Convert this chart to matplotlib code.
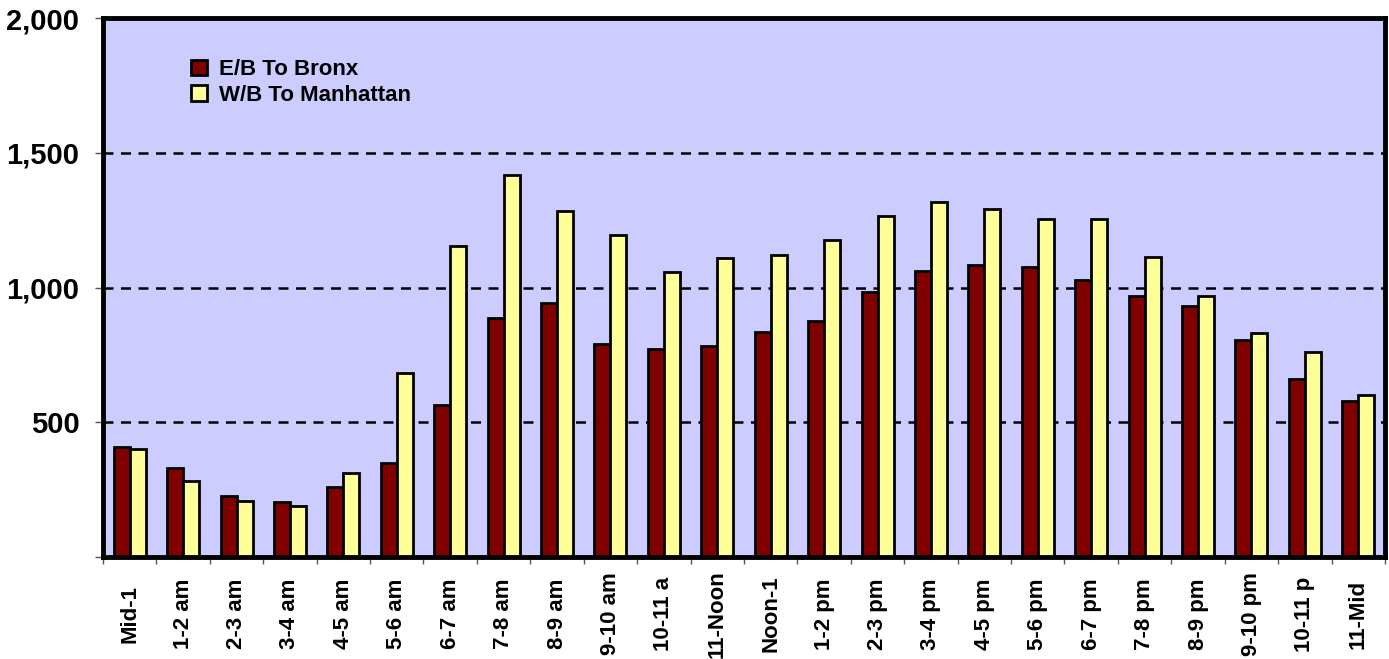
import matplotlib
matplotlib.use("Agg")
import matplotlib.pyplot as plt
import numpy as np

categories = ["Mid-1", "1-2 am", "2-3 am", "3-4 am", "4-5 am", "5-6 am", "6-7 am",
              "7-8 am", "8-9 am", "9-10 am", "10-11 a", "11-Noon", "Noon-1", "1-2 pm",
              "2-3 pm", "3-4 pm", "4-5 pm", "5-6 pm", "6-7 pm", "7-8 pm", "8-9 pm",
              "9-10 pm", "10-11 p", "11-Mid"]
eb_bronx = [410, 332, 225, 205, 258, 349, 564, 888, 941, 789, 773, 784, 836, 875,
            985, 1062, 1083, 1075, 1027, 970, 933, 804, 660, 579]
wb_manhattan = [401, 283, 206, 189, 311, 684, 1154, 1419, 1283, 1193, 1059, 1109, 1121, 1178,
                1265, 1317, 1293, 1254, 1253, 1112, 967, 830, 759, 600]
yticks = [0, 500, 1000, 1500, 2000]
ytick_labels = ["", "500", "1,000", "1,500", "2,000"]

plt.rcParams['font.family'] = ['Liberation Sans', 'DejaVu Sans']
plt.rcParams['font.weight'] = 'bold'

fig = plt.figure(figsize=(13.89, 6.59), dpi=100)
ax = fig.add_axes([103/1389, 1 - 557/659, (1385-103)/1389, (557-18)/659])
ax.set_facecolor('#CCCCFF')

x = np.arange(len(categories))
w = 0.3
ax.bar(x - w/2, eb_bronx, w, color='#800000', edgecolor='black', linewidth=2.0,
       label='E/B To Bronx', zorder=3)
ax.bar(x + w/2, wb_manhattan, w, color='#FFFF99', edgecolor='black', linewidth=2.0,
       label='W/B To Manhattan', zorder=3)

ax.set_xlim(-0.5, len(categories) - 0.5)
ax.set_ylim(0, 2000)

for v in [500, 1000, 1500]:
    ax.axhline(v, color='black', linestyle=(0, (4, 3)), linewidth=1.8, zorder=1)

ax.set_yticks(yticks)
ax.set_yticklabels(ytick_labels, fontsize=21, fontweight='bold')
ax.tick_params(axis='y', length=6, width=1, color='#555555', pad=11)

ax.set_xticks(x)
ax.set_xticklabels(categories, rotation=90, va='center', ha='center',
                   fontsize=16, fontweight='bold')
ax.tick_params(axis='x', which='major', length=0, pad=41)
ax.set_xticks(np.arange(-0.5, len(categories) + 0.5, 1), minor=True)
ax.tick_params(axis='x', which='minor', length=5, width=1, color='#555555')

for s in ax.spines.values():
    s.set_linewidth(3.5)
    s.set_color('black')
    s.set_zorder(5)

leg = ax.legend(loc='upper left', bbox_to_anchor=(0.062, 0.94), frameon=False,
                handlelength=0.7, handleheight=0.7, handletextpad=0.55,
                labelspacing=0.2, borderaxespad=0,
                prop={'family': 'Liberation Sans', 'weight': 'bold', 'size': 16})

fig.savefig('out.png', dpi=100)
